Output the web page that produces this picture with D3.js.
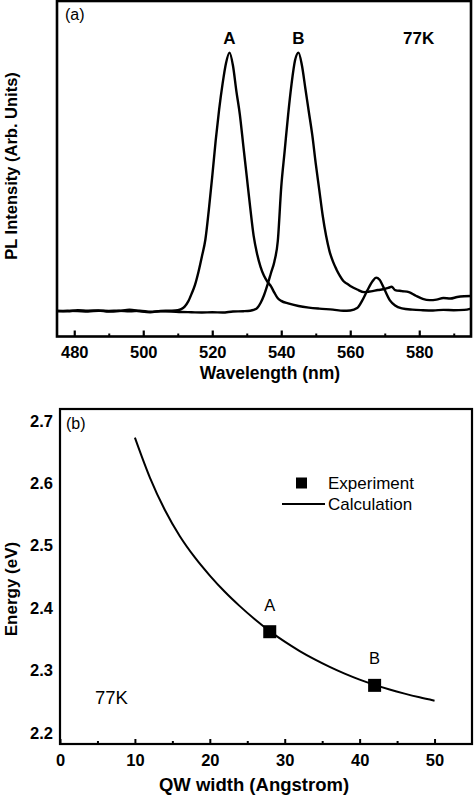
<!DOCTYPE html>
<html><head><meta charset="utf-8">
<script src="https://cdn.jsdelivr.net/npm/d3@7"></script>
<style>
html,body{margin:0;padding:0;background:#fff;}
svg{display:block;}
text{font-family:"Liberation Sans",Arial,Helvetica,sans-serif;fill:#000;}
</style></head>
<body>
<svg id="chart" width="474" height="797"></svg>
<script>
// ---------- Panel (a) data: PL spectra ----------
const wlA = [475,478,481,484,487,490,493,496,499,502,505,508,510,511,512,513,514,515,516,517,518,519,520,521,522,523,524,525,526,527,528,529,530,531,532,533,534,535,536,537,538,539,540,542,545,548,551,555,558,560,562,563.5,565,566.5,567.5,568.5,570,571.5,573,575,578,581,584,587,590,593,595];
const intA = [0.100,0.098,0.102,0.100,0.101,0.097,0.099,0.104,0.098,0.094,0.099,0.100,0.102,0.106,0.116,0.135,0.165,0.200,0.250,0.310,0.375,0.490,0.620,0.760,0.880,0.980,1.060,1.100,1.050,0.950,0.860,0.740,0.620,0.500,0.390,0.320,0.270,0.235,0.212,0.195,0.170,0.148,0.138,0.128,0.118,0.112,0.108,0.104,0.100,0.101,0.110,0.140,0.180,0.215,0.228,0.220,0.180,0.140,0.120,0.109,0.104,0.102,0.101,0.103,0.102,0.103,0.108];
const wlB = [475,478,481,484,487,490,493,496,499,502,505,508,511,514,517,520,523,526,529,531,532,533,534,535,536,537,538,539,540,541,542,543,544,545,546,547,548,549,550,551,552,553,554,555,556,557,558,559,560,562,564,566,568,570,571,572,573,575,577,579,581,583,585,587,589,591,593,595];
const intB = [0.098,0.100,0.099,0.097,0.100,0.099,0.100,0.098,0.100,0.096,0.098,0.097,0.095,0.094,0.093,0.094,0.093,0.097,0.098,0.100,0.103,0.110,0.130,0.160,0.200,0.245,0.290,0.370,0.580,0.720,0.860,0.980,1.070,1.100,1.050,0.960,0.870,0.780,0.670,0.570,0.470,0.390,0.330,0.290,0.260,0.235,0.215,0.205,0.196,0.182,0.172,0.175,0.180,0.184,0.188,0.193,0.180,0.176,0.172,0.158,0.146,0.141,0.143,0.149,0.147,0.153,0.156,0.157];
const wlTicksMajor = [480,500,520,540,560,580];
const wlTicksMinor = [490,510,530,550,570,590];

// ---------- Panel (b) data: energy vs QW width ----------
const qwCalc = [10,12,14,16,18,20,22,24,26,28,30,32,34,36,38,40,42,44,46,48,50];
const energyCalc = [2.673,2.609,2.557,2.515,2.481,2.452,2.426,2.403,2.382,2.363,2.346,2.331,2.3176,2.3056,2.2948,2.2852,2.2768,2.2694,2.2628,2.2568,2.2514];
const qwExp = [28,42];
const energyExp = [2.362,2.276];
const expLabels = ["A","B"];
const qwTicksMajor = [0,10,20,30,40,50];
const qwTicksMinor = [5,15,25,35,45];
const energyTicks = [2.2,2.3,2.4,2.5,2.6,2.7];

const svg = d3.select("#chart");

function styleTickText(g){
  g.attr("font-family",null).attr("font-size",null);
  g.selectAll("text")
    .attr("font-family","Liberation Sans, Arial, sans-serif")
    .style("font-size","16.5px")
    .style("font-weight","700");
}

// ================= Panel (a) =================
const a = {left:57, right:471, top:1, bottom:336.5};
const xa = d3.scaleLinear().domain([475,595]).range([a.left,a.right]);
const ya = d3.scaleLinear().domain([0,1.3]).range([a.bottom,a.top]);

const gA = svg.append("g");
const lineA = d3.line().x(d=>xa(d[0])).y(d=>ya(d[1])).curve(d3.curveMonotoneX);
gA.append("path").datum(wlA.map((w,i)=>[w,intA[i]]))
  .attr("d",lineA).attr("fill","none").attr("stroke","#000").attr("stroke-width",2.4).attr("stroke-linejoin","round");
gA.append("path").datum(wlB.map((w,i)=>[w,intB[i]]))
  .attr("d",lineA).attr("fill","none").attr("stroke","#000").attr("stroke-width",2.4).attr("stroke-linejoin","round");

const axA = gA.append("g").attr("transform",`translate(0,${a.bottom})`)
  .call(d3.axisBottom(xa).tickValues(wlTicksMajor).tickSizeInner(-6).tickSizeOuter(0).tickPadding(10).tickFormat(d3.format("d")));
axA.select(".domain").remove();
axA.selectAll("line").attr("stroke-width",2.2);
styleTickText(axA);
const axAm = gA.append("g").attr("transform",`translate(0,${a.bottom})`)
  .call(d3.axisBottom(xa).tickValues(wlTicksMinor).tickSizeInner(-3).tickSizeOuter(0).tickFormat(""));
axAm.select(".domain").remove();
axAm.selectAll("line").attr("stroke-width",2);

gA.append("rect").attr("x",a.left).attr("y",a.top).attr("width",a.right-a.left).attr("height",a.bottom-a.top)
  .attr("fill","none").attr("stroke","#000").attr("stroke-width",2.6);

gA.append("text").attr("x",(a.left+a.right)/2+6).attr("y",379).attr("text-anchor","middle")
  .style("font-size","17.5px").style("font-weight","bold").text("Wavelength (nm)");
gA.append("text").attr("transform",`translate(17,${166}) rotate(-90)`).attr("text-anchor","middle")
  .style("font-size","16.5px").style("font-weight","bold").text("PL Intensity (Arb. Units)");
gA.append("text").attr("x",65).attr("y",20).style("font-size","16px").text("(a)");
gA.append("text").attr("x",xa(525)).attr("y",43.5).attr("text-anchor","middle").style("font-size","17px").style("font-weight","bold").text("A");
gA.append("text").attr("x",xa(545)).attr("y",43.5).attr("text-anchor","middle").style("font-size","17px").style("font-weight","bold").text("B");
gA.append("text").attr("x",403).attr("y",44).style("font-size","17px").style("font-weight","bold").text("77K");

// ================= Panel (b) =================
const b = {left:60, right:472, top:409, bottom:744};
const xb = d3.scaleLinear().domain([0,55]).range([b.left,b.right]);
const yb = d3.scaleLinear().domain([2.182,2.719]).range([b.bottom,b.top]);
const gB = svg.append("g");

gB.append("path").datum(qwCalc.map((q,i)=>[q,energyCalc[i]]))
  .attr("d",d3.line().x(d=>xb(d[0])).y(d=>yb(d[1])).curve(d3.curveMonotoneX))
  .attr("fill","none").attr("stroke","#000").attr("stroke-width",2);

const sq = 13;
gB.selectAll("rect.pt").data(qwExp.map((q,i)=>[q,energyExp[i]])).join("rect").attr("class","pt")
  .attr("x",d=>xb(d[0])-sq/2).attr("y",d=>yb(d[1])-sq/2).attr("width",sq).attr("height",sq).attr("fill","#000");
gB.selectAll("text.ptl").data(qwExp.map((q,i)=>[q,energyExp[i],expLabels[i]])).join("text").attr("class","ptl")
  .attr("x",d=>xb(d[0])).attr("y",d=>yb(d[1])-21).attr("text-anchor","middle").style("font-size","16.5px").text(d=>d[2]);

const axB = gB.append("g").attr("transform",`translate(0,${b.bottom})`)
  .call(d3.axisBottom(xb).tickValues(qwTicksMajor).tickSizeInner(-5).tickSizeOuter(0).tickPadding(10).tickFormat(d3.format("d")));
axB.select(".domain").remove();
axB.selectAll("line").attr("stroke-width",2);
styleTickText(axB);
const axBm = gB.append("g").attr("transform",`translate(0,${b.bottom})`)
  .call(d3.axisBottom(xb).tickValues(qwTicksMinor).tickSizeInner(-3).tickSizeOuter(0).tickFormat(""));
axBm.select(".domain").remove();
axBm.selectAll("line").attr("stroke-width",2);

const ayB = gB.append("g").attr("transform",`translate(${b.left},0)`)
  .call(d3.axisLeft(yb).tickValues(energyTicks).tickSize(0).tickPadding(7).tickFormat(d3.format(".1f")));
ayB.select(".domain").remove();
styleTickText(ayB);

gB.append("rect").attr("x",b.left).attr("y",b.top).attr("width",b.right-b.left).attr("height",b.bottom-b.top)
  .attr("fill","none").attr("stroke","#000").attr("stroke-width",2.2);

gB.append("text").attr("x",254).attr("y",791).attr("text-anchor","middle")
  .style("font-size","18.5px").style("font-weight","bold").text("QW width (Angstrom)");
gB.append("text").attr("transform",`translate(17,${589}) rotate(-90)`).attr("text-anchor","middle")
  .style("font-size","17px").style("font-weight","bold").text("Energy (eV)");
gB.append("text").attr("x",66).attr("y",429).style("font-size","16px").text("(b)");
gB.append("text").attr("x",95).attr("y",704).style("font-size","18.5px").text("77K");

// legend
gB.append("rect").attr("x",301.5-5.5).attr("y",483-5.5).attr("width",11).attr("height",11).attr("fill","#000");
gB.append("text").attr("x",328).attr("y",489).style("font-size","17px").text("Experiment");
gB.append("line").attr("x1",282).attr("x2",325).attr("y1",504).attr("y2",504).attr("stroke","#000").attr("stroke-width",2);
gB.append("text").attr("x",328).attr("y",510).style("font-size","17px").text("Calculation");
</script>
</body></html>
